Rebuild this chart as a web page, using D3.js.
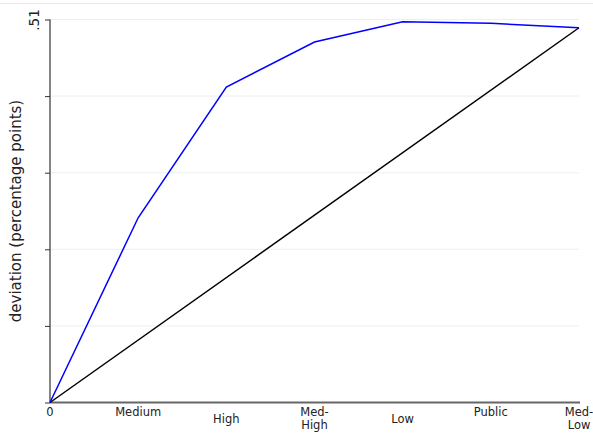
<!DOCTYPE html>
<html><head><meta charset="utf-8">
<script src="https://cdn.jsdelivr.net/npm/d3@7"></script>
<style>html,body{margin:0;padding:0;background:#fff;}svg{display:block;}</style>
</head><body>
<svg id="c" width="593" height="434"></svg>
<script>
const categories = ["0","Medium","High","Med-High","Low","Public","Med-Low"];
const labelRows = [0,0,1,0,1,0,0];
const deviation = [0, 0.246, 0.420, 0.480, 0.507, 0.505, 0.499];
const equalityCats = ["0","Med-Low"];
const equalityVals = [0, 0.499];
const yTicks = [0, 0.102, 0.204, 0.306, 0.408, 0.51];
const yTickLabels = {"0.51": ".51"};

const svg = d3.select("#c");
const font = "'DejaVu Sans', sans-serif";
const x = d3.scalePoint().domain(categories).range([50, 579]);
const y = d3.scaleLinear().domain([0, 0.51]).range([402.5, 19.5]);

// faint top border
svg.append("line").attr("x1",0).attr("x2",593).attr("y1",3.5).attr("y2",3.5)
  .attr("stroke","#e6e9ea").attr("stroke-width",1);

// gridlines
svg.append("g").selectAll("line").data(yTicks.slice(1)).join("line")
  .attr("x1",50).attr("x2",579).attr("y1",d=>y(d)).attr("y2",d=>y(d))
  .attr("stroke","#eaf0f0").attr("stroke-width",1);

// y axis
const yAxis = d3.axisLeft(y).tickValues(yTicks).tickSize(5)
  .tickFormat(d => yTickLabels[String(d)] || "");
const gy = svg.append("g").attr("transform","translate(50,0)").call(yAxis);
gy.select(".domain").attr("stroke","#333").attr("stroke-width",1.2).attr("d","M0,19.5V402.5");
gy.selectAll(".tick line").attr("stroke","#333");
gy.selectAll(".tick text").attr("font-family",font).attr("font-size",13.5).attr("fill","#222")
  .attr("transform","rotate(-90)").attr("x",0).attr("y",-11).attr("dy","0").attr("text-anchor","middle");

// y title
svg.append("text").attr("transform","translate(21,211) rotate(-90)")
  .attr("text-anchor","middle").attr("font-family",font).attr("font-size",15).attr("fill","#222")
  .text("deviation (percentage points)");

// x axis
const xAxis = d3.axisBottom(x).tickSize(0).tickFormat("");
const gx = svg.append("g").attr("transform","translate(0,402.5)").call(xAxis);
gx.select(".domain").attr("stroke","#666").attr("stroke-width",2).attr("d","M50,0H580");

const xl = svg.append("g");
categories.forEach((c,i) => {
  const parts = c.includes("-") ? [c.split("-")[0]+"-", c.split("-")[1]] : [c];
  const base = 416 + labelRows[i]*7;
  parts.forEach((p,j) => xl.append("text").attr("x",x(c)).attr("y",base + j*12.5)
    .attr("text-anchor","middle").attr("font-family",font).attr("font-size",11.5)
    .attr("fill","#222").text(p));
});

// lines
const line = d3.line().x(d=>x(d[0])).y(d=>y(d[1]));
svg.append("path").datum(equalityCats.map((c,i)=>[c,equalityVals[i]]))
  .attr("d",line).attr("fill","none").attr("stroke","#000").attr("stroke-width",1.5);
svg.append("path").datum(categories.map((c,i)=>[c,deviation[i]]))
  .attr("d",line).attr("fill","none").attr("stroke","#0000ff").attr("stroke-width",1.5);
</script>
</body></html>
